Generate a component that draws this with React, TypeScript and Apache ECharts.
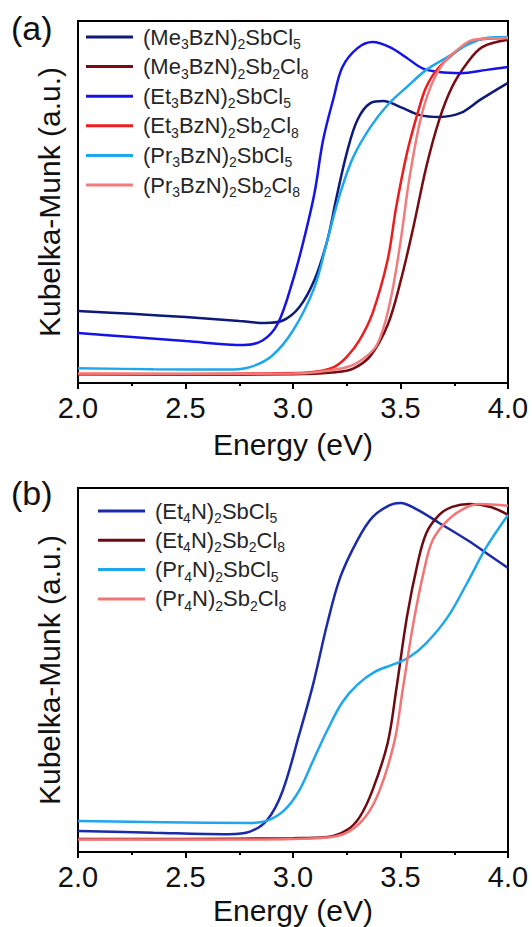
import React, { useEffect, useRef } from "react";
import * as echarts from "echarts";

// ---------- Panel (a) data: [energy (eV), Kubelka-Munk (a.u., normalised 0-100)] ----------
const A_NAMES = [
  "(Me3BzN)2SbCl5",
  "(Me3BzN)2Sb2Cl8",
  "(Et3BzN)2SbCl5",
  "(Et3BzN)2Sb2Cl8",
  "(Pr3BzN)2SbCl5",
  "(Pr3BzN)2Sb2Cl8",
];
const A_COLORS = ["#0d1a78", "#780c12", "#1414e6", "#ee1c1c", "#1ea7ee", "#f27b7b"];

const A_ME_SB = [
  [2.0, 19.9], [2.25, 19.1], [2.5, 18.2], [2.75, 17.1], [2.87, 16.6], [2.95, 17.2],
  [3.03, 21.0], [3.1, 28.5], [3.16, 39.5], [3.2, 50.6], [3.25, 63.5], [3.3, 72.7],
  [3.36, 77.3], [3.42, 77.9], [3.5, 76.2], [3.59, 74.0], [3.68, 73.5], [3.78, 74.6],
  [3.87, 78.2], [4.0, 82.9],
];
const A_ME_SB2 = [
  [2.0, 2.4], [2.5, 2.3], [3.0, 2.4], [3.2, 3.0], [3.28, 4.0], [3.36, 7.5], [3.44, 16.0],
  [3.5, 28.0], [3.56, 43.1], [3.62, 59.7], [3.68, 72.7], [3.74, 81.8], [3.81, 88.4],
  [3.88, 92.8], [4.0, 94.8],
];
const A_ET_SB = [
  [2.0, 13.8], [2.25, 12.7], [2.5, 11.6], [2.77, 10.5], [2.86, 11.8],
  [2.93, 16.5], [3.0, 28.5], [3.05, 39.5], [3.1, 52.5], [3.14, 67.1], [3.19, 79.0],
  [3.23, 87.3], [3.3, 92.5], [3.37, 94.2], [3.45, 92.8], [3.53, 89.8], [3.6, 87.0],
  [3.68, 85.9], [3.78, 85.6], [3.9, 86.5], [4.0, 87.3],
];
const A_ET_SB2 = [
  [2.0, 2.5], [2.5, 2.5], [2.9, 2.7], [3.08, 3.0], [3.19, 4.4], [3.25, 7.2], [3.31, 11.9],
  [3.37, 19.3], [3.44, 34.0], [3.48, 48.6], [3.53, 63.5], [3.58, 74.6], [3.62, 81.8],
  [3.68, 87.3], [3.78, 92.5], [3.86, 94.8], [4.0, 95.3],
];
const A_PR_SB = [
  [2.0, 4.1], [2.35, 3.8], [2.7, 3.7], [2.8, 4.4], [2.9, 7.4],
  [3.0, 14.5], [3.1, 26.5], [3.16, 39.5], [3.22, 52.5], [3.28, 62.4], [3.36, 70.7],
  [3.44, 76.8], [3.53, 81.8], [3.62, 86.5], [3.72, 90.1], [3.81, 93.4], [3.9, 95.3],
  [4.0, 95.6],
];
const A_PR_SB2 = [
  [2.0, 2.6], [2.5, 2.5], [3.0, 2.6], [3.23, 4.1], [3.31, 6.0], [3.39, 10.5], [3.45, 22.0],
  [3.5, 39.0], [3.54, 56.0], [3.59, 72.0], [3.64, 81.8], [3.7, 88.4], [3.78, 92.8],
  [3.84, 94.8], [4.0, 95.3],
];
const A_DATA = [A_ME_SB, A_ME_SB2, A_ET_SB, A_ET_SB2, A_PR_SB, A_PR_SB2];

// ---------- Panel (b) data ----------
const B_NAMES = ["(Et4N)2SbCl5", "(Et4N)2Sb2Cl8", "(Pr4N)2SbCl5", "(Pr4N)2Sb2Cl8"];
const B_COLORS = ["#1a2aa8", "#6e0a10", "#1ea7ee", "#f27474"];

const B_ET_SB = [
  [2.0, 5.8], [2.35, 5.3], [2.7, 4.9], [2.8, 5.6], [2.88, 8.8], [2.95, 16.5],
  [3.03, 32.5], [3.095, 46.4], [3.16, 62.9], [3.22, 75.5], [3.3, 85.7], [3.37, 92.0],
  [3.45, 95.3], [3.5, 95.9], [3.58, 94.0], [3.68, 90.4], [3.81, 85.7], [3.9, 82.1],
  [4.0, 78.0],
];
const B_ET_SB2 = [
  [2.0, 3.6], [2.5, 3.6], [3.0, 3.8], [3.16, 4.1], [3.25, 6.0], [3.31, 9.6], [3.37, 17.0],
  [3.44, 29.9], [3.48, 44.5], [3.53, 64.6], [3.58, 79.4], [3.62, 87.6], [3.68, 92.6],
  [3.74, 94.8], [3.82, 95.6], [3.92, 94.8], [4.0, 92.6],
];
const B_PR_SB = [
  [2.0, 8.5], [2.4, 8.2], [2.8, 8.0], [2.88, 8.6], [2.96, 11.5], [3.03, 17.0],
  [3.095, 25.3], [3.16, 33.5], [3.23, 41.2], [3.3, 46.0], [3.38, 49.5], [3.47, 51.6],
  [3.54, 53.5], [3.62, 57.4], [3.72, 64.6], [3.81, 73.9], [3.9, 83.8], [4.0, 92.6],
];
const B_PR_SB2 = [
  [2.0, 3.4], [2.5, 3.4], [3.0, 3.6], [3.2, 4.3], [3.31, 7.9], [3.39, 15.1], [3.47, 29.9],
  [3.51, 44.5], [3.56, 62.9], [3.61, 77.5], [3.65, 85.7], [3.72, 91.2], [3.8, 94.5],
  [3.87, 95.6], [4.0, 95.1],
];
const B_DATA = [B_ET_SB, B_ET_SB2, B_PR_SB, B_PR_SB2];

const X_MIN = 2.0;
const X_MAX = 4.0;
const X_STEP = 0.5;
const X_TITLE = "Energy (eV)";
const Y_TITLE = "Kubelka-Munk (a.u.)";
const PANEL_LABELS = ["(a)", "(b)"];

const FONT = "'Liberation Sans', Arial, Helvetica, sans-serif";

function toRich(name: string): string {
  const parts = name.split(/(\d)/).filter((p) => p.length > 0);
  return (
    "{g| }" +
    parts.map((p) => (/^\d$/.test(p) ? `{s|${p}}` : `{m|${p}}`)).join("")
  );
}

const richStyles = {
  g: { width: 5, fontSize: 22, lineHeight: 24 },
  m: { fontSize: 22, lineHeight: 24, color: "#262626", fontFamily: FONT },
  s: { fontSize: 14, lineHeight: 14, padding: [14, 0, 0, 0], color: "#262626", fontFamily: FONT },
};

function xAxisFor(gridIndex: number) {
  return {
    type: "value",
    gridIndex,
    min: X_MIN,
    max: X_MAX,
    interval: X_STEP,
    name: X_TITLE,
    nameLocation: "middle",
    nameGap: gridIndex === 0 ? 46 : 43,
    nameTextStyle: { fontSize: 30, color: "#111", fontFamily: FONT },
    axisLine: { show: true, lineStyle: { color: "#000", width: 2 } },
    axisTick: { show: true, inside: false, length: 6, lineStyle: { color: "#000", width: 2 } },
    minorTick: { show: true, splitNumber: 2, length: 3, lineStyle: { color: "#000", width: 2 } },
    splitLine: { show: false },
    minorSplitLine: { show: false },
    axisLabel: {
      fontSize: 29,
      color: "#111",
      fontFamily: FONT,
      margin: 10,
      formatter: (v: number) => v.toFixed(1),
    },
  };
}

function yAxisFor(gridIndex: number) {
  return {
    type: "value",
    gridIndex,
    min: 0,
    max: 100,
    name: Y_TITLE,
    nameLocation: "middle",
    nameGap: 14,
    nameTextStyle: { fontSize: 30, color: "#111", fontFamily: FONT },
    axisLine: { show: true, lineStyle: { color: "#000", width: 2 } },
    axisTick: { show: false },
    axisLabel: { show: false },
    splitLine: { show: false },
  };
}

function legendFor(names: string[], left: number, top: number, itemGap: number) {
  return {
    data: names,
    orient: "vertical",
    left,
    top,
    padding: 0,
    itemGap,
    itemWidth: 47,
    itemHeight: 3,
    icon: "rect",
    selectedMode: false,
    formatter: (n: string) => toRich(n),
    textStyle: { fontSize: 22, color: "#262626", fontFamily: FONT, rich: richStyles },
  };
}

function seriesFor(names: string[], colors: string[], data: number[][][], idx: number) {
  return names.map((name, i) => ({
    type: "line",
    name,
    xAxisIndex: idx,
    yAxisIndex: idx,
    data: data[i],
    showSymbol: false,
    symbol: "none",
    smooth: 0.35,
    clip: true,
    lineStyle: { color: colors[i], width: 2.5 },
    itemStyle: { color: colors[i] },
  }));
}

export default function App() {
  const ref = useRef<HTMLDivElement>(null);

  useEffect(() => {
    if (!ref.current) return;
    const chart = echarts.init(ref.current, undefined, { renderer: "svg" });
    chart.setOption({
      animation: false,
      backgroundColor: "#ffffff",
      grid: [
        { left: 78, top: 21, width: 430, height: 362, show: true, borderColor: "#000", borderWidth: 2, backgroundColor: "transparent" },
        { left: 78, top: 488, width: 430, height: 364, show: true, borderColor: "#000", borderWidth: 2, backgroundColor: "transparent" },
      ],
      xAxis: [xAxisFor(0), xAxisFor(1)],
      yAxis: [yAxisFor(0), yAxisFor(1)],
      legend: [legendFor(A_NAMES, 86, 23, 1.6), legendFor(B_NAMES, 98, 497, 1.3)],
      series: [
        ...seriesFor(A_NAMES, A_COLORS, A_DATA, 0),
        ...seriesFor(B_NAMES, B_COLORS, B_DATA, 1),
      ],
      graphic: [
        { type: "text", left: 11, top: 11, style: { text: PANEL_LABELS[0], fontSize: 34, fill: "#111", fontFamily: FONT } },
        { type: "text", left: 11, top: 476, style: { text: PANEL_LABELS[1], fontSize: 34, fill: "#111", fontFamily: FONT } },
      ],
    });
    return () => chart.dispose();
  }, []);

  return (
    <div
      ref={ref}
      style={{ position: "absolute", left: 0, top: 0, width: 532, height: 927 }}
    />
  );
}
